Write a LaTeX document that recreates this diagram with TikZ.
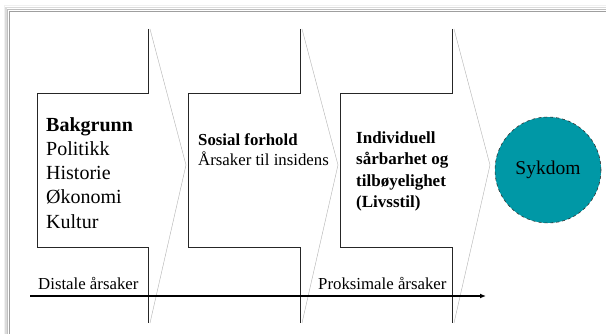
\documentclass[tikz,border=0pt]{standalone}
\usepackage{fontspec}
\setmainfont{Liberation Serif}
\usetikzlibrary{arrows.meta}
\usetikzlibrary{positioning}

\definecolor{sykdomfarge}{RGB}{0,152,166}

\tikzset{
    blokk/.style={draw=black!85, line width=0.8pt, fill=white},
    spiss/.style={draw=black!30, line width=0.4pt},
    tekst/.style={inner sep=0pt, align=left, anchor=north west},
    akse/.style={line width=1.2pt, -{Latex[length=6pt, width=5pt]}}
}

\begin{document}
\begin{tikzpicture}[x=1pt, y=-1pt]
        \useasboundingbox[fill=white] (0,0) rectangle (606,334);

        % ramme med skygge
        \draw[gray!12, line width=1.5pt] (4.5,334) -- (4.5,5.5) -- (606,5.5);
        \draw[gray!28, line width=1.5pt] (6,334) -- (6,7.5) -- (606,7.5);
        \draw[gray!50, line width=1.5pt] (7.5,334) -- (7.5,9.5) -- (606,9.5);
        \draw[gray!75, line width=1.2pt] (9.2,334) -- (9.2,11.2) -- (606,11.2);

        % blokkpiler
        \draw[blokk] (148,29) -- (148,93) -- (37,93) -- (37,247) -- (148,247) -- (148,323);
        \draw[spiss] (150,29) -- (186,165) -- (150,323);
        \draw[blokk] (300,29) -- (300,93) -- (188,93) -- (188,247) -- (300,247) -- (300,323);
        \draw[spiss] (302,29) -- (338,165) -- (302,323);
        \draw[blokk] (452,29) -- (452,93) -- (340,93) -- (340,247) -- (452,247) -- (452,323);
        \draw[spiss] (454,29) -- (490,165) -- (454,323);

        \node[tekst, font=\fontsize{20}{24.3}\selectfont] (bakgrunn) at (46,117)
            {\textbf{Bakgrunn}\\Politikk\\Historie\\Økonomi\\Kultur};
        \node[tekst, font=\fontsize{16.8}{20}\selectfont] (sosial) at (198,133.5)
            {\textbf{Sosial forhold}\\Årsaker til insidens};
        \node[tekst, font=\fontsize{17}{21.5}\bfseries] (individuell) at (356,131.5)
            {Individuell\\sårbarhet og\\tilbøyelighet\\(Livsstil)};

        \node[circle, draw=black!80, dashed, line width=0.6pt, fill=sykdomfarge,
              minimum size=106pt, font=\fontsize{19.5}{22}\selectfont] (sykdom) at (548,170) {Sykdom};

        \coordinate (aksestart) at (30,296);
        \coordinate (akseslutt) at (486,296);
        \draw[akse] (aksestart) -- (akseslutt);

        \node[inner sep=0pt, anchor=base west, font=\fontsize{16.8}{20}\selectfont] (distale) at (38,290) {Distale årsaker};
        \node[inner sep=0pt, anchor=base west, font=\fontsize{16.8}{20}\selectfont] (proksimale) at (318,290) {Proksimale årsaker};
    \end{tikzpicture}
\end{document}
